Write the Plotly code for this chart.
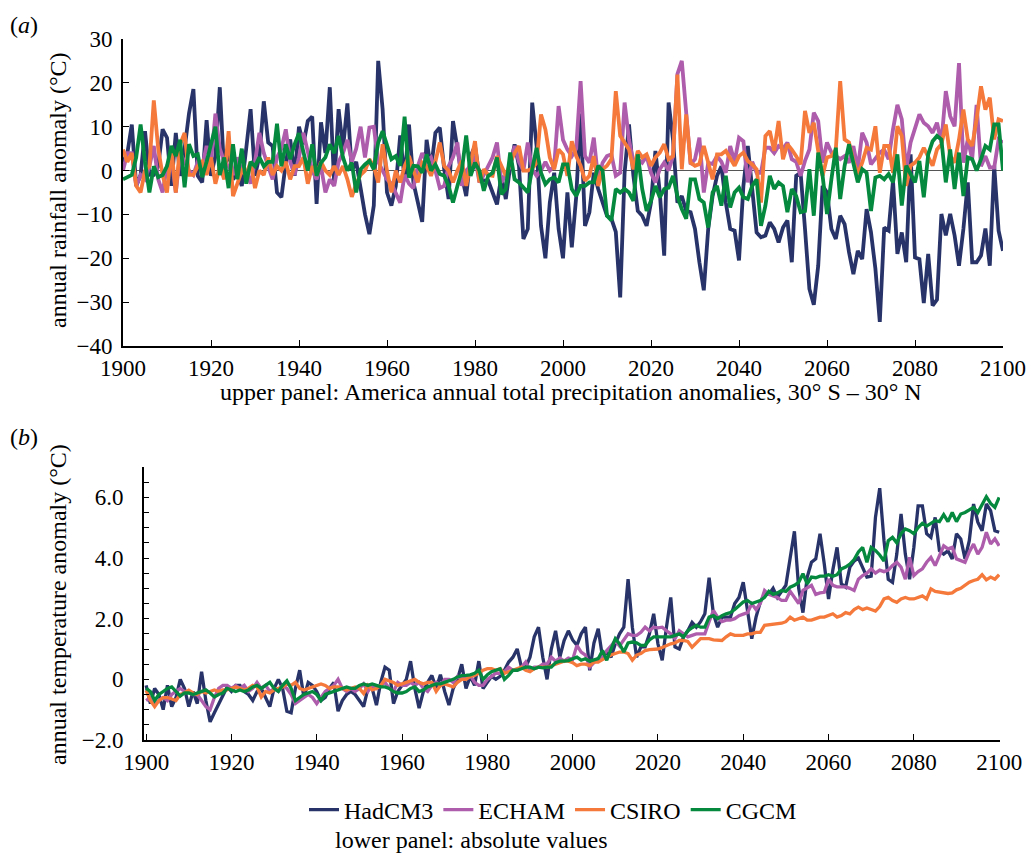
import plotly.graph_objects as go

# ---------------- data ----------------
years = list(range(1900, 2101))
series_names = ["HadCM3", "ECHAM", "CSIRO", "CGCM"]
series_colors = ["#283469", "#ad5dab", "#f4793b", "#05893f"]

# Panel (a): annual rainfall anomaly
had_rain = [
    2, 4, 10.5, -3.5, -1, 9, -1, -1, 1, 9.4,
    7.5, -3.5, 8.6, -1.2, 5, 13, 18.6, -1.2, -2.7, 11.5,
    -1.2, 3.3, 19, -0.5, 5, -2, -0.5, -3.5, 5, 14,
    -1.2, 3.3, 15.8, 6.4, 5.6, -5, -6.1, 1.8, 7.1, -1.2,
    10, 6, 11.3, 12.3, -7.6, 11, 4, 19, -3, 14,
    5, 15.3, 0, 2, -4, -10, -14.5, -8, 25, 14,
    -5, -8, -3.5, 8, -2, 10.5, -2.7, -7.3, -11.7, 7,
    0.3, 8.6, 9.8, 0.3, -6.5, 11.3, 4.8, -1.2, -5.8, 3.3,
    5.6, -1.2, -2.3, -2.3, -5, -7.7, -1.2, -6.5, 1, 6,
    1, -15.6, -13.3, 15.5, 5.6, -12.6, -20, -7.3, -0.5, -13.3,
    -20, -5, -17.5, -6, 13, -12.6, -9.5, -0.5, -4.2, -7.3,
    -10.3, -11, -14, -28.9, -0.5, 10.5, -1.2, -9.2, -10.3, -12.6,
    -7.3, 4.5, -5, -19.4, 15.5, 7.1, -7.3, -5.8, -9.2, -9.5,
    -13.3, -20.9, -27.3, -13.3, -5.8, -1.2, 1, -7.3, -13.3, -13.7,
    -20.5, -3.5, 5.6, -4.2, -14.1, -15.2, -14.8, -11.8, -13.3, -16.4,
    -13, -11.4, -20.9, -1.2, -0.5, -13.3, -27, -30.6, -21.7, -3.5,
    -5, -13.3, -15.6, -10.3, -12.2, -18.6, -23.6, -18.3, -20.2, -8.8,
    -14.1, -22.4, -34.5, -13, -13.7, -2.3, -19, -14.1, -20.9, 3.7,
    -19.8, -20.2, -30.2, -19, -30.8, -29.4, -9.9, -14.8, -9.9, -14.8,
    -21.7, -13.3, -2.7, -20.9, -20.9, -19.4, -13.2, -21.7, 1.1, -13.7,
    -18.3,
]
echam_rain = [
    0, 4, 4, -3.5, -1, -2, 1, 5.6, -2, -5,
    1, 3, -5, 4, 2, 0, -1, 2, 1, 5.6,
    2, 13, 5, 2, 1, -1, 3, 0, 0, -3,
    2, 8.6, 4, 1, -2, 3, 5, 9.4, 2, -1,
    3, 8.6, 4, 0, -2, 1, -5, -2, -3.5, 2,
    4, 7, 2, 5, 10, 3, 9.8, 10, 2, 0,
    -2, -3, -5, -7.3, -1, -3, -4, 1, 4, 2,
    3, 0, -4, -3.5, 1, 3, 6.4, -3.5, 0, 1,
    3.3, -2.7, -1, 1, 3, 6.4, -2.7, -1, 1, 5.6,
    2, 0, 6.4, 0.3, -1.2, 0, 2, 0, 1, 14.7,
    7, 4.8, 3.3, 5, 20.4, 3.3, 1.8, 7.5, -2, 1.8,
    3.3, 3.7, -1.2, -0.5, 15.5, 7, 1.8, 2.6, 1.8, 3.3,
    -0.5, -2.7, 0.3, 1.8, 0, 3.3, 22, 25, 13, 1.4,
    2.6, 7.5, -5, 1.8, 1.5, 3.3, 2, -0.5, 5.6, 2,
    7.5, 6.7, -2.7, 2, -0.5, -0.5, 5.2, 5.2, 4, 5.6,
    5, 6.4, 2.6, 2, -1.2, 2.2, 4.8, 13.2, 11.3, 1.8,
    6.4, 4.1, 3.3, 2.6, 3.3, 1.8, 5.6, 0.3, 8.6, 6.4,
    1.4, 2.6, 4.1, 4.8, 2.6, 9.4, 15, 11.7, 0.3, 6.4,
    9.4, 12.8, 10.9, 10.1, 8.6, 10.9, 6.4, 18.1, 12.4, 10.1,
    24.5, 1.8, 7.1, 2.6, 15, 1, 3.3, 0.7, 0.7, 7.1,
    6.4,
]
csiro_rain = [
    4.8, 2, 4, -3.5, -5, 0, 1, 16, 5, -1,
    -5, 5, -5, 6, 8.6, -1, -1, 1, 2, -1,
    3, -3, 1, -2, 9, -5.8, -3, 0, -1, 2,
    -4, 0, -1, 3, -1, 1, 0, 2, -2, 1,
    1, 3, -3, 1, -1, 2, 0, -1, 1, -1,
    1, -2, -6, -3, -1, 0, 2.6, 1, -2.7, 6,
    0, -5, 0, -2.7, 1, 3.3, 0, -2.7, 1.8, 1,
    -1.2, 2, 6.4, 1, 0, -2.7, 0, 2.2, -3.5, 2,
    6.7, -2.7, 0.3, -1, -1.2, 3.3, 1, -1.2, 1.8, 4,
    5.6, 0, 0, 0.5, 1.8, 12.8, 9.4, 3, 0.3, 4.8,
    3.7, -1.2, 6.7, 3.3, 1.1, -2.3, -1.2, 3.3, -3.5, 0.3,
    1.1, 2.6, 18.1, 7.9, 6.4, 4.8, 0.3, 4.5, 3, 3.7,
    1.1, 3, 4.1, 6, 2.6, 3.3, 21.9, 0.3, 12.8, 1.8,
    1.1, 1.5, 5.6, 1.8, -2, 3.7, 3.7, 4.5, 2.6, 1.1,
    3.3, 4.1, 2.2, 1.4, 0.3, -7.3, 7.9, 9, 4.5, 11.3,
    2.6, 6, 4.8, 3.3, 1.4, 13.6, 8.6, 10.9, 4.5, -1.2,
    3, 3.3, 4.8, 20.4, 7.1, 6.4, 2.2, -0.8, 1.8, 5.2,
    4.8, 10.1, -0.5, 5.6, 5.6, -0.5, 10.1, 7.9, -3.5, 1.1,
    1.8, 3, 5.2, 3.3, 1.1, 4.8, 6, 10.5, 3.3, 1.8,
    7.1, 13.9, 7.1, 5.6, 11.7, 19.2, 13.9, 16.6, 7.1, 11.7,
    11.3,
]
cgcm_rain = [
    -2, -1.5, -1, 3, 10.5, 2, -5, 1, -1.5, -1,
    1, 5.6, 3.3, 7, -3.8, 6, 3.3, 3.7, -1.5, 2,
    6, 10, -1, 3, -4, 6, -2, 5, -3, 2,
    1, 3, 1, 2, 2, 10.7, 1, 6, 2.6, 6,
    8.5, 4, 0, 6, -1.2, 1.8, 3, 6, 4, 7.9,
    3, 0, 1.8, -5, 0.3, 1.4, 2.2, 0.3, 6.4, 9,
    5.6, 2.6, 3.3, 1.1, 12.3, -1.6, 1.1, 1, -0.5, 3.7,
    0, 1.4, -0.8, -1.2, -3.5, -7.3, -3.5, 0, 8, -1.2,
    1.8, 0, -4.6, -1.2, -0.5, 3, -5.4, -4.2, 4.1, -2,
    -2.7, -3.9, -5, 0.3, 5.2, -0.5, -3.1, -2, -1.6, -2.7,
    1.4, 1.4, -4.2, -5.8, -3.5, -3.5, -2.7, -2.7, 1.1, 0,
    -10.3, -11.4, -4.2, -5, -4.2, -5, -6.9, 3.7, -4.2, -9.2,
    -6.9, -3.5, -6.1, -4.2, -3.9, -1.2, -5.8, -8.8, -11, -2,
    -2, -6.5, -7.3, -13, -5, -3.5, -8, -1.2, -8.4, -5,
    -3.9, -6.1, -6.5, -3.5, -2, -12.6, -8, -1.2, -4.2, -2.7,
    -3.5, -9.5, -4.2, -5.8, -9.5, -9.2, 0.3, -10.3, 4.1, -1.2,
    -9.9, -2, 5.2, -6.5, 1.1, 6, 1.8, -2.7, 0.3, -0.5,
    -9.2, -1.6, -1.2, -2, -0.8, -2.7, 3.7, -8, 1.1, -0.8,
    -2.7, 2.2, -6.1, 3.7, 6.7, 7.9, 7.1, -2.7, 4.8, -4.2,
    4.1, -5.8, 3, 2.6, 0, 2.6, 5.6, 4.8, 10.5, 10.5,
    0,
]

# Panel (b): annual temperature anomaly
had_temp = [
    -0.2, -0.8, -0.3, -0.5, -1.0, -0.2, -0.9, -0.6, 0.0, -0.3,
    -0.9, -0.4, -0.8, 0.25, -0.7, -1.4, -1.1, -0.8, -0.5, -0.25,
    -0.4, -0.2, -0.2, -0.4, -0.5, -0.7, -0.4, -0.3, -0.6, -0.9,
    -0.3, 0.0, -0.3, -1.05, -1.1, -0.3, 0.3, -0.6, -0.1, -0.2,
    -0.4, -0.7, -0.6, -0.3, -0.1, -1.05, -0.7, -0.5, -0.4, -0.5,
    -0.7, -0.9, -0.3, -0.3, -0.85, -0.1, 0.4, 0.3, -0.8, -0.4,
    -0.2, 0.0, 0.6, -0.3, -0.95, -0.4, -0.1, 0.13, -0.3, 0.15,
    -0.4, -0.85, -0.3, 0.0, 0.5, -0.3, 0.1, -0.2, 0.6, -0.3,
    -0.1, 0.1, 0.0, 0.1, 0.3, 0.57, 0.73, 1.0, 0.4, 0.4,
    0.73, 1.4, 1.72, 0.73, 0.0, 1.0, 1.6, 0.73, 1.28, 1.6,
    1.3, 1.12, 1.5, 1.72, 0.3, 1.2, 1.67, 0.73, 0.9, 0.73,
    1.17, 1.5, 1.72, 3.3, 1.72, 0.73, 1.07, 1.07, 1.5, 2.16,
    1.17, 0.63, 1.72, 2.7, 1.07, 1.0, 1.4, 1.6, 1.88, 1.72,
    1.9, 2.16, 3.35, 2.16, 1.72, 2.05, 2.05, 2.05, 2.5, 2.7,
    3.2, 2.27, 1.34, 2.05, 2.55, 2.8, 2.8, 3.0, 2.7, 2.9,
    3.1, 4.0, 4.88, 3.0, 2.2, 3.37, 3.86, 3.97, 4.8, 3.8,
    2.65, 3.6, 4.35, 3.15, 3.04, 3.7, 3.9, 4.0, 3.7, 3.37,
    3.4, 5.34, 6.3, 4.57, 3.3, 3.2, 4.13, 5.45, 4.13, 3.3,
    4.35, 5.72, 5.72, 4.8, 4.68, 5.34, 4.24, 4.13, 4.24, 3.97,
    4.8, 4.63, 3.97, 4.57, 5.78, 5.18, 4.9, 5.78, 5.56, 4.9,
    4.85,
]
echam_temp = [
    -0.7, -0.6, -0.8, -0.7, -0.6, -0.7, -0.5, -0.4, -0.3, -0.4,
    -0.4, -0.5, -0.5, -0.7, -0.9, -1.0, -0.6, -0.3, -0.2, -0.2,
    -0.3, -0.2, -0.3, -0.2, -0.4, -0.3, -0.1, -0.3, -0.2, -0.4,
    -0.3, -0.4, -0.2, -0.3, -0.5, -0.8, -0.7, -0.6, -0.5, -0.6,
    -0.8, -0.6, -0.4, -0.3, -0.2, 0.0, -0.3, -0.4, -0.3, -0.4,
    -0.3, -0.15, -0.4, -0.2, -0.3, -0.2, -0.1, -0.3, -0.4, -0.1,
    -0.2, -0.2, -0.1, -0.2, -0.1, -0.3, -0.4, -0.2, -0.1, -0.2,
    0.0, 0.0, -0.1, 0.1, 0.0, 0.1, 0.13, -0.1, -0.2, -0.2,
    0.0, 0.1, 0.2, 0.2, 0.25, 0.4, 0.3, 0.3, 0.4, 0.57,
    0.3, 0.4, 0.4, 0.5, 0.5, 0.73, 0.6, 0.7, 0.6, 0.7,
    0.65, 1.12, 0.9, 0.8, 0.4, 0.55, 0.7, 0.75, 0.95, 1.1,
    1.28, 1.1, 1.28, 1.5, 1.45, 1.45, 1.55, 1.72, 1.6, 1.72,
    1.7, 1.72, 1.6, 1.5, 1.34, 1.6, 1.5, 1.4, 1.45, 1.5,
    1.5, 1.5, 1.9, 2.27, 2.05, 1.9, 1.95, 1.95, 2.0, 2.1,
    2.15, 2.2, 2.49, 2.3, 2.5, 2.93, 2.8, 2.75, 2.7, 2.6,
    2.6, 2.9, 2.7, 2.5, 2.93, 3.0, 3.1, 2.8, 2.85, 2.87,
    3.3, 3.1, 3.05, 3.05, 3.05, 3.0, 2.93, 3.3, 3.42, 3.5,
    3.64, 3.5, 3.6, 3.55, 3.6, 3.75, 3.86, 3.7, 3.3, 4.02,
    3.42, 3.55, 3.64, 3.86, 4.02, 3.75, 4.08, 4.4, 4.3, 4.35,
    3.97, 3.9, 3.86, 4.2, 4.46, 4.13, 4.35, 4.85, 4.46, 4.63,
    4.4,
]
csiro_temp = [
    -0.36, -0.7, -0.9, -0.7, -0.6, -0.6, -0.65, -0.7, -0.5, -0.45,
    -0.36, -0.45, -0.5, -0.4, -0.45, -0.4, -0.35, -0.4, -0.35, -0.35,
    -0.3, -0.25, -0.3, -0.35, -0.3, -0.2, -0.25, -0.58, -0.4, -0.45,
    -0.35, -0.3, -0.25, -0.15, -0.2, -0.1, -0.3, -0.35, -0.3, -0.25,
    -0.2, -0.15, -0.2, -0.3, -0.25, -0.25, -0.3, -0.35, -0.3, -0.25,
    -0.3, -0.47, -0.2, -0.35, -0.3, -0.2, 0.0, -0.05, -0.1, -0.2,
    -0.15, -0.1, -0.05, 0.0, -0.1, -0.15, -0.1, -0.1, -0.4, -0.2,
    -0.15, -0.2, -0.25, -0.1, 0.0, 0.0, 0.1, 0.13, 0.2, 0.3,
    0.35, 0.35, 0.3, 0.35, 0.2, 0.25, 0.3, 0.35, 0.4, 0.3,
    0.25, 0.35, 0.4, 0.4, 0.4, 0.45, 0.5, 0.57, 0.6, 0.6,
    0.55, 0.45, 0.5, 0.5, 0.45, 0.57, 0.57, 0.65, 0.73, 0.8,
    0.85, 0.9, 0.9, 0.85, 0.63, 0.8, 0.85, 0.95, 0.98, 1.0,
    1.0, 1.05, 1.12, 1.17, 1.2, 1.28, 1.28, 1.25, 1.06, 1.2,
    1.34, 1.34, 1.34, 1.3, 1.28, 1.28, 1.4, 1.5, 1.45, 1.45,
    1.45, 1.5, 1.5, 1.55, 1.55, 1.78, 1.8, 1.83, 1.83, 1.85,
    1.9, 2.05, 1.95, 2.0, 2.05, 1.95, 1.95, 2.0, 2.05, 2.05,
    2.1, 2.16, 2.05, 2.1, 2.2, 2.16, 2.3, 2.38, 2.3, 2.35,
    2.3, 2.25, 2.4, 2.65, 2.7, 2.6, 2.54, 2.65, 2.7, 2.65,
    2.65, 2.7, 2.75, 2.65, 2.98, 2.9, 2.88, 2.85, 2.83, 2.85,
    2.95, 3.0, 3.1, 3.2, 3.26, 3.3, 3.45, 3.28, 3.37, 3.3,
    3.45,
]
cgcm_temp = [
    -0.3, -0.4, -0.7, -0.5, -0.4, -0.3, -0.25, -0.4, -0.55, -0.45,
    -0.45, -0.5, -0.45, -0.4, -0.35, -0.45, -0.58, -0.5, -0.45, -0.3,
    -0.35, -0.4, -0.35, -0.4, -0.35, -0.25, -0.2, -0.3, -0.2, -0.1,
    -0.3, -0.4, -0.2, -0.05, -0.3, -0.7, -0.6, -0.5, -0.45, -0.4,
    -0.5, -0.7, -0.5, -0.45, -0.4, -0.35, -0.3, -0.25, -0.3, -0.3,
    -0.2, -0.15, -0.2, -0.15, -0.2, -0.25, -0.25, -0.3, -0.4, -0.45,
    -0.45, -0.4, -0.3, -0.25, -0.4, -0.35, -0.25, -0.2, -0.15, -0.15,
    -0.1, -0.05, 0.0, 0.08, 0.12, 0.13, 0.15, 0.2, 0.3, 0.0,
    0.15, 0.25, 0.3, 0.35, 0.0, 0.13, 0.3, 0.3, 0.35, 0.4,
    0.4, 0.35, 0.4, 0.38, 0.4, 0.4, 0.55, 0.6, 0.6, 0.62,
    0.68, 0.73, 0.63, 0.68, 0.6, 0.65, 0.68, 0.95, 0.63, 1.0,
    1.34, 1.17, 0.9, 1.2, 1.23, 1.2, 1.12, 1.12, 1.3, 1.4,
    1.4, 1.4, 1.4, 1.4, 1.45, 1.5, 1.4, 1.6, 1.7, 1.78,
    1.72, 1.72, 2.05, 2.1, 2.0, 2.1, 2.16, 2.2, 2.3, 2.43,
    2.55, 2.6, 2.5, 2.55, 2.6, 2.7, 2.9, 2.8, 2.85, 2.93,
    2.9, 3.04, 3.1, 3.2, 3.48, 3.15, 3.37, 3.35, 3.4, 3.4,
    3.45, 3.4, 3.45, 3.64, 3.7, 3.8, 3.95, 4.2, 4.35, 3.86,
    4.35, 4.25, 4.1, 3.9, 4.57, 4.68, 4.5, 4.8, 4.96, 4.9,
    4.8, 5.0, 5.14, 5.05, 5.15, 5.23, 5.2, 5.43, 5.2, 5.5,
    5.2, 5.45, 5.5, 5.6, 5.67, 5.5, 5.78, 6.02, 5.8, 5.67,
    6.0,
]

# tick labels
x_tickvals = [1900, 1920, 1940, 1960, 1980, 2000, 2020, 2040, 2060, 2080, 2100]
rain_tickvals = [-40, -30, -20, -10, 0, 10, 20, 30]
rain_ticktext = ["\u221240", "\u221230", "\u221220", "\u221210", "0", "10", "20", "30"]
temp_tickvals = [-2.0, -1.5, -1.0, -0.5, 0.0, 0.5, 1.0, 1.5, 2.0, 2.5, 3.0, 3.5,
                 4.0, 4.5, 5.0, 5.5, 6.0, 6.5, 7.0]
temp_ticktext = ["\u22122.0", "", "", "", "0", "", "", "", "2.0", "", "", "",
                 "4.0", "", "", "", "6.0", "", ""]

rain_series = [had_rain, echam_rain, csiro_rain, cgcm_rain]
temp_series = [had_temp, echam_temp, csiro_temp, cgcm_temp]

# ---------------- figure ----------------
W, H = 1033, 854
FONT = "Liberation Serif, Times New Roman, serif"
FS = 23
FS_TEXT = 24


def fx(p):
    return p / W


def fy(p):
    return 1 - p / H


fig = go.Figure()
for name, color, vals in zip(series_names, series_colors, rain_series):
    fig.add_trace(go.Scatter(x=years, y=vals, mode="lines", name=name,
                             line=dict(color=color, width=3.8),
                             xaxis="x", yaxis="y", showlegend=False))
for name, color, vals in zip(series_names, series_colors, temp_series):
    fig.add_trace(go.Scatter(x=years, y=vals, mode="lines", name=name,
                             line=dict(color=color, width=3.3),
                             xaxis="x2", yaxis="y2", showlegend=True))

axis_common = dict(showline=True, linecolor="black", linewidth=2, ticks="inside",
                   tickcolor="black", tickwidth=1.2, showgrid=False,
                   automargin=False,
                   tickfont=dict(family=FONT, size=FS, color="black"))

fig.update_layout(
    width=W, height=H,
    margin=dict(l=0, r=0, t=0, b=0, autoexpand=False),
    paper_bgcolor="white", plot_bgcolor="white",
    font=dict(family=FONT, size=FS, color="black"),
    xaxis=dict(domain=[fx(123), fx(1003)], range=[1900, 2100], anchor="y",
               tickvals=x_tickvals, ticklen=6, zeroline=False, **axis_common),
    yaxis=dict(domain=[fy(346), fy(39)], range=[-40, 30], anchor="x",
               tickvals=rain_tickvals, ticktext=rain_ticktext, ticklen=6,
               zeroline=True, zerolinecolor="#555555", zerolinewidth=1,
               ticklabelstandoff=4, **axis_common),
    xaxis2=dict(domain=[fx(144), fx(1000)], range=[1899.5, 2100.2], anchor="y2",
                tickvals=x_tickvals, ticklen=6, zeroline=False, **axis_common),
    yaxis2=dict(domain=[fy(740), fy(467)], range=[-2, 7], anchor="x2",
                tickvals=temp_tickvals, ticktext=temp_ticktext, ticklen=5,
                zeroline=False, ticklabelstandoff=14, **axis_common),
    legend=dict(orientation="h", x=fx(553), xanchor="center", y=fy(810),
                yanchor="middle", font=dict(family=FONT, size=FS_TEXT),
                bgcolor="rgba(0,0,0,0)", itemwidth=30, tracegroupgap=0),
    showlegend=True,
)

ann_font = dict(family=FONT, size=FS_TEXT, color="black")
annotations = [
    dict(text="(<i>a</i>)", x=fx(8), y=fy(25), xanchor="left", yanchor="middle"),
    dict(text="(<i>b</i>)", x=fx(8), y=fy(437), xanchor="left", yanchor="middle"),
    dict(text="annual rainfall anomaly (°C)", x=fx(58), y=fy(190), textangle=-90,
         xanchor="center", yanchor="middle"),
    dict(text="annual temperature anomaly (°C)", x=fx(58), y=fy(605), textangle=-90,
         xanchor="center", yanchor="middle"),
    dict(text="upper panel: America annual total precipitation anomalies, 30° S \u2013 30° N",
         x=fx(571), y=fy(392), xanchor="center", yanchor="middle"),
    dict(text="lower panel: absolute values", x=fx(471), y=fy(840),
         xanchor="center", yanchor="middle"),
]
for a in annotations:
    a.update(xref="paper", yref="paper", showarrow=False, font=ann_font)
fig.update_layout(annotations=annotations)

fig.write_html("out.html")
